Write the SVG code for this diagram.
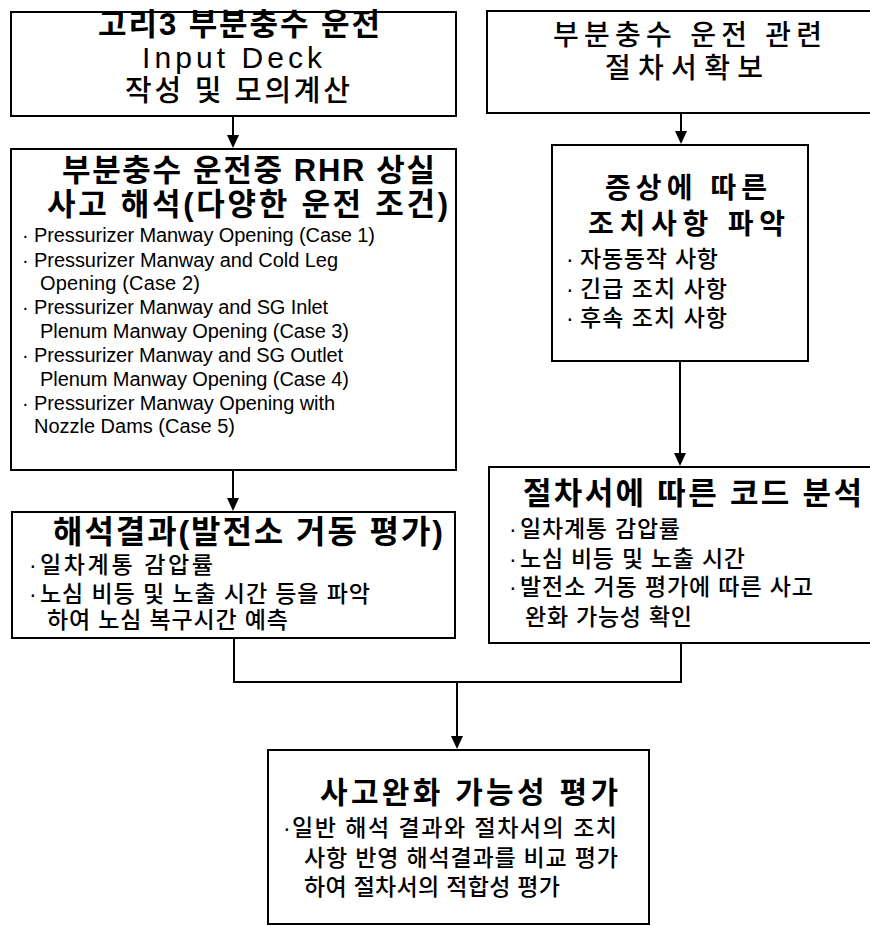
<svg xmlns="http://www.w3.org/2000/svg" width="870" height="926" viewBox="0 0 870 926">
<style>
.box{fill:#fff;stroke:#000;stroke-width:2}
.t{font-family:"Liberation Sans","Noto Sans CJK KR",sans-serif;fill:#000}
.h{font-weight:bold}
.m{font-weight:500}
.l{font-size:20px}
.b{font-size:23px;font-weight:500}
.c{fill:none;stroke:#000;stroke-width:2}
.a{fill:#000}
</style>
<rect width="870" height="926" fill="#fff"/>

<g id="connectors">
<line class="c" x1="233" y1="116" x2="233" y2="140"/>
<path class="a" d="M227,135 L239,135 L233,148 Z"/>
<line class="c" x1="681" y1="113" x2="681" y2="136"/>
<path class="a" d="M675,131 L687,131 L681,144 Z"/>
<line class="c" x1="233" y1="470" x2="233" y2="503"/>
<path class="a" d="M227,498 L239,498 L233,511 Z"/>
<line class="c" x1="680" y1="361" x2="680" y2="458"/>
<path class="a" d="M674,453 L686,453 L680,466 Z"/>
<polyline class="c" points="234,638 234,682 681,682 681,643"/>
<line class="c" x1="457" y1="682" x2="457" y2="741"/>
<path class="a" d="M451,736 L463,736 L457,749 Z"/>
</g>

<g id="nodeA">
<rect class="box" x="11" y="12" width="445" height="104"/>
<text class="t h" x="98" y="35" font-size="31" textLength="282" lengthAdjust="spacing">고리3 부분충수 운전</text>
<text class="t" x="142" y="68" font-size="30" textLength="180" lengthAdjust="spacing">Input Deck</text>
<text class="t m" x="125" y="101" font-size="29" textLength="225" lengthAdjust="spacing">작성 및 모의계산</text>
</g>

<g id="nodeB">
<rect class="box" x="487" y="11" width="386" height="102"/>
<text class="t m" x="553" y="45" font-size="28" textLength="269" lengthAdjust="spacing">부분충수 운전 관련</text>
<text class="t m" x="605" y="78" font-size="28" textLength="158" lengthAdjust="spacing">절차서확보</text>
</g>

<g id="nodeC">
<rect class="box" x="11" y="149" width="445" height="321"/>
<text class="t h" x="62" y="181" font-size="31" textLength="373" lengthAdjust="spacing">부분충수 운전중 RHR 상실</text>
<text class="t h" x="47" y="215" font-size="31" textLength="401" lengthAdjust="spacing">사고 해석(다양한 운전 조건)</text>
<text class="t l" x="22" y="242">·</text>
<text class="t l" x="34" y="242" textLength="341" lengthAdjust="spacing">Pressurizer Manway Opening (Case 1)</text>
<text class="t l" x="22" y="267">·</text>
<text class="t l" x="34" y="267" textLength="304" lengthAdjust="spacing">Pressurizer Manway and Cold Leg</text>
<text class="t l" x="40" y="290" textLength="160" lengthAdjust="spacing">Opening (Case 2)</text>
<text class="t l" x="22" y="314">·</text>
<text class="t l" x="34" y="314" textLength="294" lengthAdjust="spacing">Pressurizer Manway and SG Inlet</text>
<text class="t l" x="40" y="338" textLength="309" lengthAdjust="spacing">Plenum Manway Opening (Case 3)</text>
<text class="t l" x="22" y="362">·</text>
<text class="t l" x="34" y="362" textLength="309" lengthAdjust="spacing">Pressurizer Manway and SG Outlet</text>
<text class="t l" x="40" y="386" textLength="309" lengthAdjust="spacing">Plenum Manway Opening (Case 4)</text>
<text class="t l" x="22" y="410">·</text>
<text class="t l" x="34" y="410" textLength="301" lengthAdjust="spacing">Pressurizer Manway Opening with</text>
<text class="t l" x="34" y="433" textLength="201" lengthAdjust="spacing">Nozzle Dams (Case 5)</text>
</g>

<g id="nodeD">
<rect class="box" x="552" y="145" width="256" height="216"/>
<text class="t h" x="605" y="198" font-size="28" textLength="162" lengthAdjust="spacing">증상에 따른</text>
<text class="t h" x="588" y="234" font-size="28" textLength="197" lengthAdjust="spacing">조치사항 파악</text>
<text class="t b" x="566" y="267">·</text>
<text class="t b" x="580" y="267" textLength="138" lengthAdjust="spacing">자동동작 사항</text>
<text class="t b" x="566" y="297">·</text>
<text class="t b" x="580" y="297" textLength="147" lengthAdjust="spacing">긴급 조치 사항</text>
<text class="t b" x="566" y="326">·</text>
<text class="t b" x="580" y="326" textLength="147" lengthAdjust="spacing">후속 조치 사항</text>
</g>

<g id="nodeE">
<rect class="box" x="489" y="467" width="384" height="176"/>
<text class="t h" x="523" y="504" font-size="31" textLength="339" lengthAdjust="spacing">절차서에 따른 코드 분석</text>
<text class="t b" x="509" y="537">·</text>
<text class="t b" x="520" y="537" textLength="160" lengthAdjust="spacing">일차계통 감압률</text>
<text class="t b" x="509" y="567">·</text>
<text class="t b" x="520" y="567" textLength="225" lengthAdjust="spacing">노심 비등 및 노출 시간</text>
<text class="t b" x="509" y="595">·</text>
<text class="t b" x="520" y="595" textLength="293" lengthAdjust="spacing">발전소 거동 평가에 따른 사고</text>
<text class="t b" x="525" y="625" textLength="167" lengthAdjust="spacing">완화 가능성 확인</text>
</g>

<g id="nodeF">
<rect class="box" x="12" y="512" width="443" height="126"/>
<text class="t h" x="53" y="543" font-size="32" textLength="390" lengthAdjust="spacing">해석결과(발전소 거동 평가)</text>
<text class="t b" x="29" y="573">·</text>
<text class="t b" x="40" y="573" textLength="173" lengthAdjust="spacing">일차계통 감압률</text>
<text class="t b" x="29" y="602">·</text>
<text class="t b" x="40" y="602" textLength="330" lengthAdjust="spacing">노심 비등 및 노출 시간 등을 파악</text>
<text class="t b" x="47" y="628" textLength="241" lengthAdjust="spacing">하여 노심 복구시간 예측</text>
</g>

<g id="nodeG">
<rect class="box" x="268" y="750" width="381" height="174"/>
<text class="t h" x="320" y="803" font-size="30" textLength="298" lengthAdjust="spacing">사고완화 가능성 평가</text>
<text class="t b" x="283" y="836">·</text>
<text class="t b" x="292" y="836" textLength="325" lengthAdjust="spacing">일반 해석 결과와  절차서의 조치</text>
<text class="t b" x="304" y="866" textLength="314" lengthAdjust="spacing">사항 반영 해석결과를 비교 평가</text>
<text class="t b" x="304" y="895" textLength="256" lengthAdjust="spacing">하여 절차서의 적합성 평가</text>
</g>
</svg>
